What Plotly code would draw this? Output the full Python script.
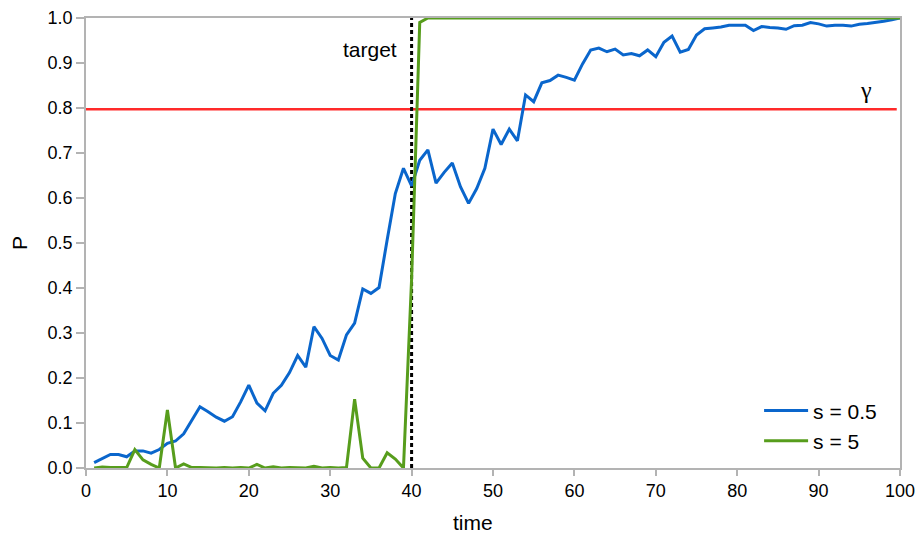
import plotly.graph_objects as go

# time steps 1..100
time = list(range(1, 101))

# probability traces
p_s05 = [
    0.012, 0.021, 0.030, 0.030, 0.025, 0.038, 0.038, 0.033, 0.041, 0.055,
    0.060, 0.076, 0.107, 0.136, 0.125, 0.113, 0.104, 0.114, 0.147, 0.184,
    0.144, 0.127, 0.166, 0.184, 0.212, 0.250, 0.224, 0.314, 0.288, 0.250,
    0.240, 0.296, 0.322, 0.398, 0.388, 0.401, 0.507, 0.610, 0.666, 0.627,
    0.684, 0.707, 0.633, 0.657, 0.678, 0.625, 0.588, 0.621, 0.666, 0.753,
    0.719, 0.753, 0.727, 0.829, 0.814, 0.856, 0.861, 0.873, 0.868, 0.862,
    0.898, 0.929, 0.933, 0.925, 0.931, 0.918, 0.921, 0.916, 0.929, 0.914,
    0.946, 0.960, 0.924, 0.930, 0.962, 0.976, 0.978, 0.980, 0.984, 0.984,
    0.984, 0.972, 0.981, 0.979, 0.978, 0.975, 0.983, 0.984, 0.990, 0.987,
    0.982, 0.984, 0.984, 0.982, 0.986, 0.988, 0.990, 0.993, 0.996, 1.000,
]
p_s5 = [
    0.000, 0.002, 0.001, 0.001, 0.001, 0.041, 0.018, 0.008, 0.000, 0.129,
    0.000, 0.009, 0.001, 0.001, 0.000, 0.000, 0.001, 0.000, 0.001, 0.000,
    0.008, 0.000, 0.003, 0.000, 0.001, 0.001, 0.000, 0.004, 0.000, 0.001,
    0.000, 0.001, 0.153, 0.022, 0.000, 0.000, 0.034, 0.020, 0.000, 0.420,
    0.990, 1.000, 1.000, 1.000, 1.000, 1.000, 1.000, 1.000, 1.000, 1.000,
    1.000, 1.000, 1.000, 1.000, 1.000, 1.000, 1.000, 1.000, 1.000, 1.000,
    1.000, 1.000, 1.000, 1.000, 1.000, 1.000, 1.000, 1.000, 1.000, 1.000,
    1.000, 1.000, 1.000, 1.000, 1.000, 1.000, 1.000, 1.000, 1.000, 1.000,
    1.000, 1.000, 1.000, 1.000, 1.000, 1.000, 1.000, 1.000, 1.000, 1.000,
    1.000, 1.000, 1.000, 1.000, 1.000, 1.000, 1.000, 1.000, 1.000, 1.000,
]

gamma = 0.797
target_time = 40
x_ticks = [0, 10, 20, 30, 40, 50, 60, 70, 80, 90, 100]
y_ticks = [0.0, 0.1, 0.2, 0.3, 0.4, 0.5, 0.6, 0.7, 0.8, 0.9, 1.0]

FONT = "Liberation Sans, Arial, sans-serif"
AXIS_GREY = "#b3b3b3"

fig = go.Figure()

# threshold gamma
fig.add_trace(go.Scatter(
    x=[0, 99.6], y=[gamma, gamma], mode="lines",
    line=dict(color="#ff2a2a", width=2.5), showlegend=False, hoverinfo="skip",
))

# target time marker
fig.add_trace(go.Scatter(
    x=[target_time, target_time], y=[0, 1], mode="lines",
    line=dict(color="black", width=3, dash="4px,3px"),
    showlegend=False, hoverinfo="skip",
))

fig.add_trace(go.Scatter(
    x=time, y=p_s05, mode="lines", name="s = 0.5",
    line=dict(color="#0a66cc", width=3),
))
fig.add_trace(go.Scatter(
    x=time, y=p_s5, mode="lines", name="s = 5",
    line=dict(color="#579d1c", width=3),
))

fig.add_annotation(
    x=38.4, y=0.93, text="target", showarrow=False,
    xanchor="right", yanchor="middle",
    font=dict(family=FONT, size=21, color="black"),
)
fig.add_annotation(
    x=95.8, y=0.84, text="γ", showarrow=False,
    xanchor="center", yanchor="middle",
    font=dict(family="Liberation Serif, serif", size=24, color="black"),
)
# x-axis caption
fig.add_annotation(
    xref="paper", yref="paper", x=0.475, y=-0.12, text="time", showarrow=False,
    xanchor="center", yanchor="middle",
    font=dict(family=FONT, size=21, color="black"),
)

axis_common = dict(
    showgrid=False, zeroline=False, showline=True, linecolor=AXIS_GREY,
    linewidth=1.5, mirror=True, ticks="outside", tickcolor=AXIS_GREY,
    tickwidth=1.5, tickfont=dict(family=FONT, size=18, color="black"),
    automargin=False,
)

fig.update_xaxes(
    range=[0, 100], tickvals=x_ticks, ticklen=6,
    **axis_common,
)
fig.update_yaxes(
    range=[0, 1.0], tickvals=y_ticks, tickformat=".1f", ticklen=8,
    title=dict(text="P", font=dict(family=FONT, size=21, color="black"), standoff=14),
    **axis_common,
)

fig.update_layout(
    width=919, height=537,
    margin=dict(l=86, r=19, t=18, b=69),
    paper_bgcolor="white", plot_bgcolor="white",
    font=dict(family=FONT, color="black"),
    legend=dict(
        x=0.978, y=0.015, xanchor="right", yanchor="bottom",
        font=dict(family=FONT, size=21, color="black"),
        bgcolor="rgba(0,0,0,0)", tracegroupgap=0, itemwidth=44,
    ),
    showlegend=True,
)

fig.write_html("out.html")
